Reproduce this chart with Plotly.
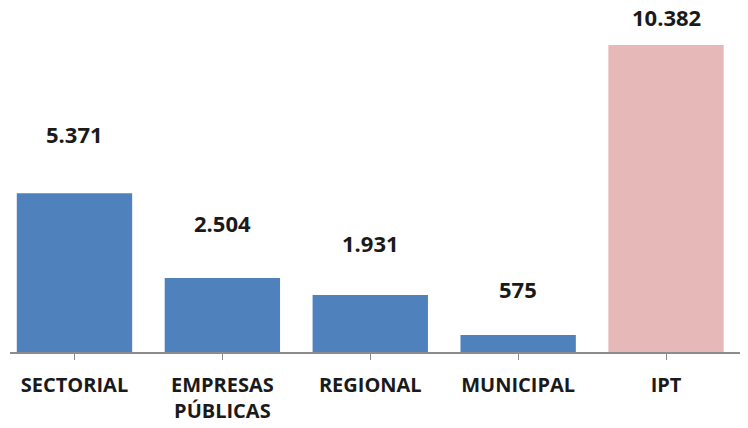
import plotly.graph_objects as go

categories = ["SECTORIAL", "EMPRESAS<br>PÚBLICAS", "REGIONAL", "MUNICIPAL", "IPT"]
values = [5371, 2504, 1931, 575, 10382]
bar_colors = ["#4F81BD", "#4F81BD", "#4F81BD", "#4F81BD", "#E6B9B8"]
label_offsets = [59, 55, 52, 46, 28]  # px above bar top (style)

def fmt(v):
    return f"{v:,}".replace(",", ".")

x_idx = list(range(len(categories)))

fig = go.Figure(go.Bar(
    x=x_idx, y=values, marker_color=bar_colors, marker_line_width=0,
    width=0.78, hoverinfo="skip",
))

for i, (v, off) in enumerate(zip(values, label_offsets)):
    fig.add_annotation(x=i, y=v, text=fmt(v), showarrow=False, yanchor="middle",
                       yshift=off, font=dict(family="Open Sans", size=22, color="#1a1a1a", weight="bold"))

fig.update_layout(
    width=748, height=428,
    margin=dict(l=10, r=8, t=0, b=76, autoexpand=False),
    paper_bgcolor="white", plot_bgcolor="white",
    showlegend=False,
    font=dict(family="Open Sans", color="#1a1a1a"),
    xaxis=dict(
        tickmode="array", tickvals=x_idx, ticktext=categories,
        range=[-0.436, 4.5], showline=True, linecolor="#8c8c8c", linewidth=1.5,
        ticks="outside", tickson="boundaries", ticklen=6, tickcolor="#8c8c8c",
        tickfont=dict(family="Open Sans", size=20, color="#1a1a1a", weight="bold"),
        showgrid=False, zeroline=False, ticklabelstandoff=8, automargin=False,
    ),
    yaxis=dict(range=[0, 11904], visible=False, showgrid=False, zeroline=False, automargin=False),
)

fig.write_html("out.html", config={"displayModeBar": False},
               post_script="document.body.style.margin='0';document.body.style.overflow='hidden';")
